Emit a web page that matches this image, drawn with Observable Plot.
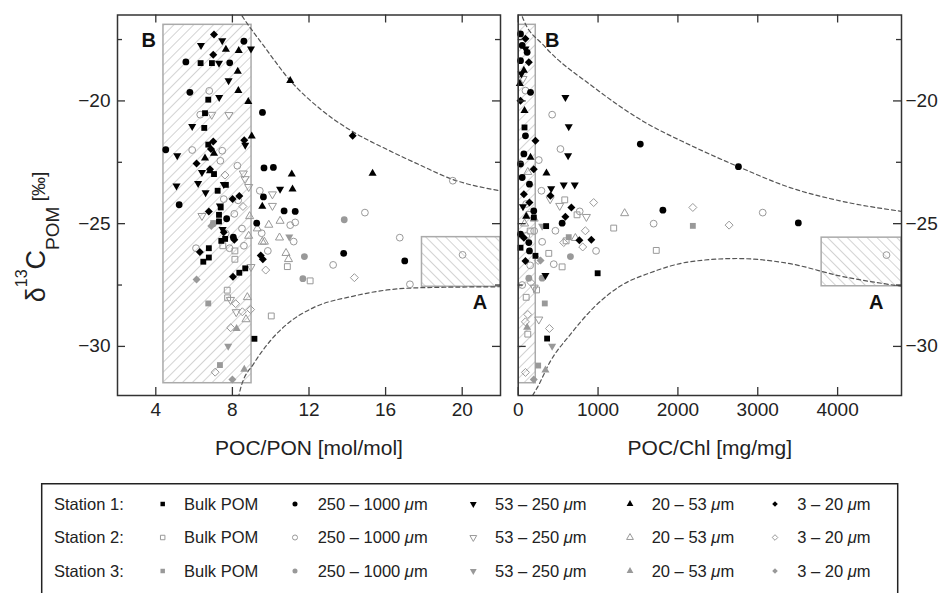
<!DOCTYPE html>
<html><head><meta charset="utf-8">
<script src="https://cdn.jsdelivr.net/npm/d3@7"></script>
<script src="https://cdn.jsdelivr.net/npm/@observablehq/plot@0.6"></script>
<style>
body{margin:0;background:#fff;}
#wrap{position:relative;width:941px;height:593px;overflow:hidden;background:#fff}
#left,#right,#legend{position:absolute;top:0}
#left{left:0}#right{left:510px}
#legend{left:0;top:483px}
</style></head><body><div id="wrap"><div id="left"></div><div id="right"></div><div id="legend"></div></div>
<script>
// ---------- categories & ticks ----------
const stations = ["Station 1:", "Station 2:", "Station 3:"];
const fractions = ["Bulk POM", "250 – 1000 μm", "53 – 250 μm", "20 – 53 μm", "3 – 20 μm"];
const yMajor = [-30, -25, -20];
const yMinor = [-27.5, -22.5, -17.5];
const ponTicks = [4, 8, 12, 16, 20];
const chlTicks = [0, 1000, 2000, 3000, 4000];
const ponTitle = "POC/PON [mol/mol]";
const chlTitle = "POC/Chl [mg/mg]";

// ---------- POC/PON panel data [x, δ13C] ----------
const ponS1Bulk = [[6.34,-18.46],[6.93,-18.46],[6.74,-19.95],[6.57,-20.5],[6.53,-21.1],[6.74,-21.78],[7.04,-22.98],[7.66,-23.42],[7.23,-23.66],[7.39,-24.34],[7.3,-24.64],[7.3,-24.91],[7.42,-25.7],[7.62,-25.62],[6.77,-26.0],[6.77,-26.38],[6.48,-26.55],[8.67,-26.82],[8.36,-27.0],[9.15,-29.69]];
const ponS1Large = [[8.6,-17.57],[5.57,-18.41],[7.86,-18.45],[5.78,-19.65],[9.57,-20.47],[4.52,-21.99],[9.65,-22.73],[10.14,-22.71],[9.62,-23.91],[5.22,-24.23],[10.7,-24.48],[11.28,-24.5],[9.27,-24.98],[7.7,-24.8],[8.05,-25.55],[13.81,-26.21],[17.0,-26.52]];
const ponS1Mid = [[6.36,-17.74],[7.47,-17.54],[8.97,-17.88],[7.3,-18.46],[7.8,-19.17],[7.31,-19.85],[5.9,-21.04],[8.67,-21.8],[5.12,-22.23],[6.41,-22.91],[5.08,-23.46],[6.21,-23.36],[7.55,-23.4],[6.6,-23.73],[7.35,-24.27],[10.49,-23.59],[7.49,-25.23]];
const ponS1Small = [[7.66,-17.9],[8.33,-17.95],[8.28,-18.8],[8.31,-19.58],[8.83,-20.03],[9.01,-21.44],[11.02,-19.17],[7.04,-22.14],[6.57,-22.33],[6.83,-22.85],[11.1,-22.98],[15.32,-22.95],[11.14,-23.59],[9.56,-24.3]];
const ponS1Pico = [[7.04,-17.29],[7.0,-18.12],[7.0,-21.65],[8.62,-21.6],[6.88,-21.96],[6.13,-22.55],[6.83,-22.78],[8.36,-23.87],[8.01,-24.0],[6.77,-24.5],[8.1,-25.66],[7.55,-25.35],[6.3,-26.15],[8.03,-27.16],[14.28,-21.42],[9.59,-26.45],[9.48,-26.3]];
const ponS2Bulk = [[8.13,-26.11],[8.13,-26.45],[7.73,-27.71],[7.75,-28.02],[10.87,-26.75],[12.06,-27.33],[10.03,-28.76],[7.5,-25.9]];
const ponS2Large = [[6.79,-19.59],[6.32,-20.56],[5.9,-22.0],[7.47,-22.03],[7.37,-22.44],[8.26,-22.64],[9.43,-23.66],[7.55,-24.0],[8.3,-24.05],[8.1,-24.6],[7.65,-25.4],[8.5,-25.2],[7.85,-26.0],[6.1,-26.0],[8.6,-25.9],[14.92,-24.55],[11.02,-25.06],[11.28,-24.95],[9.53,-25.39],[11.2,-25.73],[16.74,-25.57],[9.85,-26.11],[13.26,-26.68],[20.02,-26.27],[17.27,-27.47],[19.51,-23.25]];
const ponS2Mid = [[6.92,-20.56],[7.82,-20.57],[8.57,-22.95],[8.66,-23.18],[8.85,-23.5],[10.09,-23.8],[10.09,-24.27],[6.41,-24.68],[8.97,-26.76],[7.9,-28.1],[8.2,-28.6]];
const ponS2Small = [[10.49,-24.89],[9.9,-25.05],[9.3,-25.2],[9.56,-25.74],[9.67,-25.74],[10.46,-25.57],[10.93,-26.45],[10.8,-26.2],[8.78,-28.0],[8.71,-28.9],[8.9,-24.7],[8.85,-25.5]];
const ponS2Pico = [[7.61,-23.02],[9.74,-26.89],[14.37,-27.2],[8.52,-28.59],[8.95,-28.5],[8.17,-28.26],[7.91,-29.24],[7.1,-31.05],[8.55,-24.3]];
const ponS3Bulk = [[6.74,-28.25],[7.35,-30.76]];
const ponS3Large = [[13.84,-24.84],[11.76,-26.34],[11.68,-27.24],[7.0,-25.0]];
const ponS3Mid = [[7.04,-24.96],[7.78,-29.99],[10.97,-25.54]];
const ponS3Small = [[8.22,-29.28],[8.62,-30.94]];
const ponS3Pico = [[6.13,-27.27],[8.0,-31.35],[6.9,-25.1]];

// ---------- POC/Chl panel data [x, δ13C] ----------
const chlS1Bulk = [[79,-21.08],[196,-24.75],[350,-25.1],[29,-25.98],[216,-26.31],[995,-27.02],[362,-29.68]];
const chlS1Large = [[29,-17.27],[50,-17.74],[112,-18.02],[29,-18.36],[154,-19.65],[91,-21.42],[71,-22.16],[29,-22.57],[50,-23.12],[141,-23.39],[195,-24.48],[550,-24.98],[29,-25.43],[133,-25.77],[141,-26.11],[1529,-21.76],[1812,-24.45],[2758,-22.68],[3508,-24.97]];
const chlS1Mid = [[91,-17.88],[40,-18.9],[591,-19.85],[633,-21.05],[625,-22.23],[570,-23.42],[708,-23.42],[413,-23.57],[60,-24.3],[341,-27.1]];
const chlS1Small = [[71,-18.76],[79,-20.4],[20,-19.3],[154,-22.3],[354,-22.94],[100,-24.7]];
const chlS1Pico = [[91,-17.47],[133,-18.42],[29,-19.99],[216,-21.62],[195,-22.78],[71,-23.8],[141,-24.14],[404,-23.86],[666,-24.34],[591,-24.72],[71,-25.57],[91,-26.52],[766,-25.68],[916,-25.66]];
const chlS2Bulk = [[583,-24.03],[737,-24.64],[1196,-25.18],[1729,-26.09],[383,-26.21],[550,-26.76],[600,-25.7],[150,-25.3],[100,-28.0],[120,-29.5],[230,-27.7]];
const chlS2Large = [[91,-19.58],[425,-20.56],[529,-21.96],[258,-22.41],[291,-23.66],[100,-24.2],[770,-24.5],[466,-25.29],[300,-25.74],[200,-25.3],[100,-25.5],[975,-26.11],[445,-26.65],[150,-26.7],[50,-27.5],[1696,-25.0],[3062,-24.55],[4612,-26.28]];
const chlS2Mid = [[60,-19.1],[400,-24.0],[520,-24.27],[150,-24.6],[854,-24.72],[200,-27.6],[258,-28.9]];
const chlS2Small = [[120,-22.9],[200,-24.8],[80,-25.0],[1333,-24.58],[716,-25.59]];
const chlS2Pico = [[945,-24.14],[841,-25.29],[570,-25.77],[808,-25.95],[2187,-24.34],[2641,-25.06],[250,-26.5],[160,-27.4],[120,-28.7],[90,-29.0],[391,-29.27],[91,-31.06]];
const chlS3Bulk = [[2187,-25.09],[633,-25.55],[333,-28.25],[250,-30.78]];
const chlS3Large = [[654,-26.34],[133,-27.22],[300,-27.22]];
const chlS3Mid = [[300,-25.1],[425,-29.99]];
const chlS3Small = [[112,-29.23],[341,-30.97]];
const chlS3Pico = [[280,-26.5],[195,-31.35]];

// ---------- boxes (x1, x2, y1, y2) and dashed envelopes ----------
const ponBoxB = [4.4, 9.0, -31.5, -16.9];
const ponBoxA = [17.9, 22, -27.57, -25.55];
const chlBoxB = [0, 220, -31.5, -16.9];
const chlBoxA = [3800, 4800, -27.55, -25.57];
const ponUpper = [[8.3,-16.3],[8.66,-16.72],[9.62,-17.74],[11.02,-19.17],[12.59,-20.33],[14.28,-21.25],[16.08,-21.98],[17.82,-22.62],[19.51,-23.2],[22,-23.66]];
const ponLower = [[8.3,-32.1],[8.49,-31.55],[9.09,-30.73],[9.97,-29.78],[10.84,-29.1],[12.24,-28.42],[14.33,-27.95],[16.08,-27.7],[17.82,-27.61],[22,-27.57]];
const chlUpper = [[20,-16.3],[70,-16.72],[320,-17.74],[945,-19.44],[1550,-20.8],[2154,-21.8],[2779,-22.71],[3404,-23.53],[4029,-24.07],[4800,-24.5]];
const chlLower = [[180,-32.0],[237,-31.69],[404,-30.6],[654,-29.51],[945,-28.42],[1279,-27.54],[1654,-27.0],[2154,-26.55],[2737,-26.42],[3404,-26.63],[4029,-27.13],[4800,-27.55]];
const ponLabels = [{x: 3.63, y: -17.54, t: "B"}, {x: 20.93, y: -28.22, t: "A"}];
const chlLabels = [{x: 425, y: -17.54, t: "B"}, {x: 4483, y: -28.22, t: "A"}];

// ---------- styling ----------
const font = '"Liberation Sans", Arial, Helvetica, sans-serif';
const triDown = {draw(ctx, size) {
  const y = -Math.sqrt(size / (Math.sqrt(3) * 3));
  ctx.moveTo(0, -y * 2); ctx.lineTo(-Math.sqrt(3) * y, y); ctx.lineTo(Math.sqrt(3) * y, y); ctx.closePath();
}};
const symbols = [d3.symbolSquare, d3.symbolCircle, triDown, d3.symbolTriangle, d3.symbolDiamond2];
const radii = [3.3, 3.4, 3.0, 3.0, 3.6];
const stationStyle = [
  {fill: "#000", stroke: "none"},
  {fill: "none", stroke: "#999"},
  {fill: "#999", stroke: "none"}
];

function dotMarks(series) {
  const marks = [];
  for (const s of [1, 2, 0]) {
    series[s].forEach((data, f) => marks.push(Plot.dot(data, {
      x: d => d[0], y: d => d[1], symbol: symbols[f], r: radii[f],
      fill: stationStyle[s].fill, stroke: stationStyle[s].stroke, strokeWidth: 1
    })));
  }
  return marks;
}

const H = 470, MT = 14.5, MB = 75;
function panel({width, marginLeft, marginRight, xDomain, xTicks, yAnchor, tickPad, series, boxB, boxA, curves, labels, title, hatchB, hatchA}) {
  const innerW = width - marginLeft - marginRight;
  const innerH = H - MT - MB;
  const fmt = d3.format("d");
  const box = (b, id) => Plot.rect([b], {x1: d => d[0], x2: d => d[1], y1: d => d[2], y2: d => d[3], fill: `url(#${id})`, stroke: "#aaa", strokeWidth: 1.5, clip: true});
  return Plot.plot({
    width, height: H, marginLeft, marginRight, marginTop: MT, marginBottom: MB,
    x: {domain: xDomain}, y: {domain: [-32, -16.5]},
    style: {fontFamily: font, fontSize: "19px", color: "#222", background: "white", overflow: "visible"},
    marks: [
      box(boxB, hatchB), box(boxA, hatchA),
      ...curves.map(c => Plot.line(c, {x: d => d[0], y: d => d[1], curve: "monotone-x", stroke: "#555", strokeWidth: 1.2, strokeDasharray: "4,3", clip: true})),
      ...dotMarks(series),
      Plot.text(labels, {x: "x", y: "y", text: "t", fontWeight: "bold", fontSize: 20, fill: "#111"}),
      Plot.tickY(yMajor, {y: d => d, insetRight: innerW - 8, stroke: "#333", strokeWidth: 1.3}),
      Plot.tickY(yMajor, {y: d => d, insetLeft: innerW - 8, stroke: "#333", strokeWidth: 1.3}),
      Plot.tickY(yMinor, {y: d => d, insetRight: innerW - 5, stroke: "#333", strokeWidth: 1.3}),
      Plot.tickY(yMinor, {y: d => d, insetLeft: innerW - 5, stroke: "#333", strokeWidth: 1.3}),
      Plot.tickX(xTicks, {x: d => d, insetTop: innerH - 8, stroke: "#333", strokeWidth: 1.3}),
      Plot.tickX(xTicks, {x: d => d, insetBottom: innerH - 8, stroke: "#333", strokeWidth: 1.3}),
      Plot.axisY({ticks: yMajor, anchor: yAnchor, tickSize: 0, tickPadding: tickPad, tickFormat: fmt, label: null, fontSize: 19}),
      Plot.axisX({ticks: xTicks, anchor: "bottom", tickSize: 0, tickPadding: 7, tickFormat: fmt, label: null, fontSize: 19}),
      Plot.text([title], {text: d => d, frameAnchor: "bottom", dy: 53, fontSize: 21, lineAnchor: "middle", fill: "#222"}),
      Plot.frame({stroke: "#333", strokeWidth: 1.5})
    ]
  });
}

function addHatch(svg, id, angle) {
  const defs = d3.select(svg).insert("defs", ":first-child");
  const p = defs.append("pattern").attr("id", id).attr("patternUnits", "userSpaceOnUse")
    .attr("width", 7).attr("height", 7).attr("patternTransform", `rotate(${angle})`);
  p.append("rect").attr("width", 7).attr("height", 7).attr("fill", "white");
  p.append("line").attr("x1", 0).attr("y1", 0).attr("x2", 0).attr("y2", 7).attr("stroke", "#a8a8a8").attr("stroke-width", 1);
}

const left = panel({
  width: 510, marginLeft: 117, marginRight: 10, xDomain: [2, 22], xTicks: ponTicks, yAnchor: "left", tickPad: 7,
  series: [[ponS1Bulk, ponS1Large, ponS1Mid, ponS1Small, ponS1Pico], [ponS2Bulk, ponS2Large, ponS2Mid, ponS2Small, ponS2Pico], [ponS3Bulk, ponS3Large, ponS3Mid, ponS3Small, ponS3Pico]],
  boxB: ponBoxB, boxA: ponBoxA, curves: [ponUpper, ponLower], labels: ponLabels, title: ponTitle, hatchB: "hbL", hatchA: "haL"
});
addHatch(left, "hbL", 45); addHatch(left, "haL", -45);
document.getElementById("left").appendChild(left);

// y-axis title with sub/superscripts
const yt = d3.select(left).append("text").attr("transform", "translate(45,237) rotate(-90)")
  .attr("text-anchor", "middle").attr("font-family", font).attr("fill", "#222").attr("font-size", 27);
yt.append("tspan").text("δ");
yt.append("tspan").attr("font-size", 16).attr("dy", -18).text("13");
yt.append("tspan").attr("font-size", 27).attr("dy", 18).text("C");
yt.append("tspan").attr("font-size", 19).attr("dy", 14).text("POM");
yt.append("tspan").attr("font-size", 19).attr("dy", -14).text(" [‰]");

const right = panel({
  width: 431, marginLeft: 7.7, marginRight: 40, xDomain: [0, 4800], xTicks: chlTicks, yAnchor: "right", tickPad: 4,
  series: [[chlS1Bulk, chlS1Large, chlS1Mid, chlS1Small, chlS1Pico], [chlS2Bulk, chlS2Large, chlS2Mid, chlS2Small, chlS2Pico], [chlS3Bulk, chlS3Large, chlS3Mid, chlS3Small, chlS3Pico]],
  boxB: chlBoxB, boxA: chlBoxA, curves: [chlUpper, chlLower], labels: chlLabels, title: chlTitle, hatchB: "hbR", hatchA: "haR"
});
addHatch(right, "hbR", 45); addHatch(right, "haR", -45);
document.getElementById("right").appendChild(right);

// ---------- legend ----------
const leg = d3.select("#legend").append("svg").attr("width", 941).attr("height", 110).style("font-family", font);
leg.append("rect").attr("x", 41.7).attr("y", 0.75).attr("width", 856).attr("height", 140)
  .attr("fill", "none").attr("stroke", "#222").attr("stroke-width", 1.5);
const rowY = [21, 54.5, 88];
const markX = [162.7, 295, 473.3, 630, 775];
const textX = [184, 317.7, 495, 651.7, 797.3];
stations.forEach((st, s) => {
  leg.append("text").attr("x", 54).attr("y", rowY[s]).attr("dy", "0.35em").attr("font-size", 16.5).attr("fill", "#222").text(st);
  fractions.forEach((fr, f) => {
    leg.append("path").attr("transform", `translate(${markX[f]},${rowY[s]})`)
      .attr("d", d3.symbol(symbols[f], 20)())
      .attr("fill", stationStyle[s].fill).attr("stroke", stationStyle[s].stroke).attr("stroke-width", 1);
    const t = leg.append("text").attr("x", textX[f]).attr("y", rowY[s]).attr("dy", "0.35em").attr("font-size", 16.5).attr("fill", "#222");
    const parts = fr.split("μ");
    t.append("tspan").text(parts[0]);
    if (parts.length > 1) {
      t.append("tspan").attr("font-style", "italic").text("μ");
      t.append("tspan").text(parts[1]);
    }
  });
});
</script></body></html>
